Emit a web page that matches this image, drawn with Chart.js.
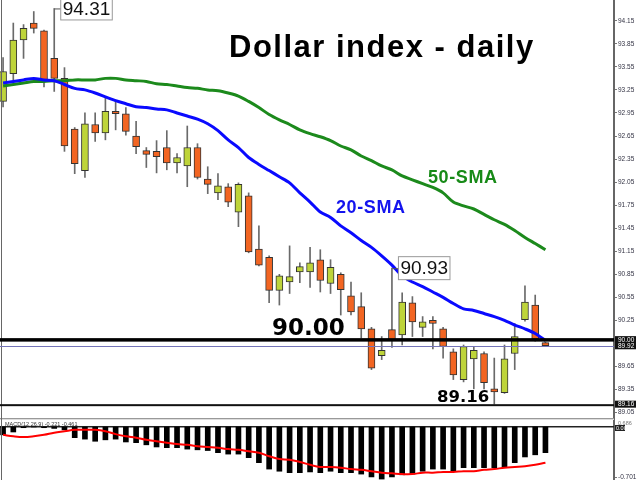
<!DOCTYPE html>
<html>
<head>
<meta charset="utf-8">
<script src="https://cdn.jsdelivr.net/npm/chart.js@4.4.1/dist/chart.umd.min.js"></script>
<style>
  body { margin: 0; background: #fff; }
  #marco { position: relative; width: 640px; height: 480px; overflow: hidden; background: #fff; }
  canvas { position: absolute; left: 0; }
  #precio { top: 0; }
  #macd { top: 418px; }
</style>
</head>
<body>
<div id="marco">
  <canvas id="precio" width="640" height="418"></canvas>
  <canvas id="macd" width="640" height="62"></canvas>
</div>
<script>
// velas diarias (indice 0 = primera vela visible)
const aperturas = [93.10, 93.46, 93.90, 94.12, 94.02, 93.66, 93.40, 92.74, 92.20, 92.80,
  92.69, 92.97, 92.94, 92.65, 92.46, 92.45, 92.50, 92.30, 92.26, 92.50,
  92.09, 91.91, 91.99, 91.66, 91.87, 91.18, 91.07, 90.64, 90.75, 90.88,
  90.88, 91.04, 90.73, 90.85, 90.57, 90.43, 90.14, 89.79, 90.13, 90.06,
  90.48, 90.16, 90.25, 90.14, 89.84, 89.48, 89.75, 89.82, 89.36, 89.31,
  89.82, 90.26, 90.45, 89.96];
const maximos = [93.67, 94.12, 94.10, 94.27, 94.03, 94.31, 93.54, 92.76, 92.95, 92.95,
  93.16, 93.11, 93.02, 92.84, 92.50, 92.59, 92.72, 92.42, 92.78, 92.55,
  92.25, 92.16, 92.03, 92.04, 91.91, 91.48, 91.09, 90.85, 91.22, 91.00,
  91.20, 91.17, 91.04, 90.87, 90.75, 90.61, 90.16, 90.04, 90.93, 90.61,
  90.56, 90.30, 90.30, 90.16, 89.88, 89.93, 89.90, 89.84, 89.76, 89.93,
  90.21, 90.70, 90.58, 89.97];
const minimos = [93.03, 93.38, 93.66, 93.99, 93.29, 93.23, 92.45, 92.16, 92.11, 92.58,
  92.60, 92.73, 92.66, 92.42, 92.24, 92.17, 92.21, 92.17, 91.99, 92.09,
  91.90, 91.82, 91.73, 91.47, 91.13, 90.96, 90.48, 90.45, 90.60, 90.74,
  90.68, 90.62, 90.60, 90.32, 90.32, 90.02, 89.61, 89.74, 89.90, 89.93,
  90.04, 90.04, 89.88, 89.76, 89.48, 89.45, 89.36, 89.36, 89.16, 89.30,
  89.61, 90.24, 89.98, 89.91];
const cierres = [93.49, 93.90, 94.05, 94.05, 93.38, 93.40, 92.52, 92.29, 92.81, 92.69,
  92.97, 92.94, 92.71, 92.51, 92.41, 92.38, 92.30, 92.37, 92.50, 92.11,
  92.02, 92.00, 91.79, 92.02, 91.14, 90.97, 90.64, 90.83, 90.82, 90.95,
  91.00, 90.77, 90.94, 90.65, 90.36, 90.14, 89.63, 89.86, 90.00, 90.49,
  90.23, 90.23, 90.21, 89.91, 89.54, 89.91, 89.86, 89.44, 89.32, 89.75,
  90.04, 90.49, 90.01, 89.92];

const sma20 = [93.34, 93.36, 93.38, 93.40, 93.38, 93.37, 93.32, 93.27, 93.25, 93.21,
  93.16, 93.11, 93.07, 93.03, 93.02, 93.00, 92.99, 92.95, 92.91, 92.87,
  92.81, 92.72, 92.60, 92.50, 92.37, 92.28, 92.20, 92.12, 92.04, 91.91,
  91.79, 91.66, 91.59, 91.48, 91.39, 91.29, 91.20, 91.09, 90.97, 90.83,
  90.75, 90.69, 90.62, 90.55, 90.47, 90.40, 90.38, 90.34, 90.30, 90.25,
  90.19, 90.14, 90.08, 89.99];
const sma50 = [93.30, 93.32, 93.34, 93.36, 93.36, 93.37, 93.37, 93.38, 93.38, 93.38,
  93.40, 93.40, 93.38, 93.37, 93.36, 93.33, 93.32, 93.30, 93.28, 93.27,
  93.25, 93.24, 93.21, 93.17, 93.10, 93.02, 92.93, 92.86, 92.80, 92.73,
  92.68, 92.64, 92.59, 92.52, 92.47, 92.39, 92.33, 92.26, 92.21, 92.13,
  92.08, 92.03, 91.98, 91.91, 91.79, 91.74, 91.70, 91.63, 91.56, 91.50,
  91.42, 91.33, 91.25, 91.17];

const macdHist = [-0.11, -0.07, -0.01, 0.00, -0.01, -0.02, -0.04, -0.15, -0.17, -0.20,
  -0.18, -0.17, -0.21, -0.22, -0.25, -0.28, -0.29, -0.29, -0.31, -0.32,
  -0.33, -0.36, -0.38, -0.38, -0.43, -0.50, -0.59, -0.62, -0.64, -0.64,
  -0.63, -0.64, -0.62, -0.64, -0.64, -0.66, -0.70, -0.73, -0.70, -0.67,
  -0.66, -0.62, -0.59, -0.59, -0.62, -0.57, -0.57, -0.57, -0.57, -0.56,
  -0.50, -0.42, -0.39, -0.36];
const macdSenal = [-0.11, -0.13, -0.14, -0.13, -0.11, -0.08, -0.06, -0.04, -0.04, -0.04,
  -0.06, -0.10, -0.13, -0.15, -0.18, -0.20, -0.22, -0.24, -0.25, -0.27,
  -0.28, -0.29, -0.31, -0.32, -0.34, -0.36, -0.41, -0.45, -0.46, -0.49,
  -0.53, -0.56, -0.56, -0.57, -0.59, -0.60, -0.62, -0.64, -0.65, -0.66,
  -0.66, -0.64, -0.64, -0.63, -0.63, -0.62, -0.62, -0.60, -0.59, -0.57,
  -0.56, -0.55, -0.53, -0.50];

const preciosEje = [94.15, 93.85, 93.55, 93.25, 92.95, 92.65, 92.35, 92.05, 91.75, 91.45,
  91.15, 90.85, 90.55, 90.25, 89.65, 89.35, 89.05];
const nivelSoporte = 90.00;
const precioActual = 89.92;
const minimoMarcado = 89.16;
const maximoMarcado = 94.31;
const picoMarcado = 90.93;

const VERDE = '#bed43a';
const NARANJA = '#f26522';

const idx = aperturas.map((_, i) => i);
const cuerpos = idx.map(i => ({ x: i, y: [aperturas[i], cierres[i]] }));
const mechas = idx.map(i => ({ x: i, y: [minimos[i], maximos[i]] }));
const coloresVela = idx.map(i => cierres[i] >= aperturas[i] ? VERDE : NARANJA);

function ejeDerecho(s) {
  s.width = 26;
  s.paddingTop = 0;
  s.paddingBottom = 0;
}

const ejeX = { type: 'linear', min: -0.3, max: 59.7, offset: false, display: false };

const dibujosPrecio = {
  id: 'dibujosPrecio',
  afterDatasetsDraw(chart) {
    const { ctx, scales: { x, y } } = chart;
    const derecha = chart.chartArea.right;
    ctx.save();

    // borde izquierdo
    ctx.fillStyle = '#666';
    ctx.fillRect(1, 0, 1, chart.height);

    // niveles
    const y90 = y.getPixelForValue(nivelSoporte);
    ctx.fillStyle = '#000';
    ctx.fillRect(0, y90 - 1.5, derecha, 3.5);
    const yAct = y.getPixelForValue(precioActual);
    ctx.fillStyle = '#7474b8';
    ctx.fillRect(0, Math.round(yAct), derecha, 1);
    const yMin = y.getPixelForValue(minimoMarcado);
    ctx.fillStyle = '#111';
    ctx.fillRect(0, yMin, derecha, 2);

    // textos grandes
    ctx.fillStyle = '#000';
    ctx.font = 'bold 23px "DejaVu Sans"';
    ctx.textBaseline = 'alphabetic';
    ctx.fillText('90.00', 272, y90 - 5);
    ctx.font = 'bold 16.5px "DejaVu Sans"';
    ctx.fillText('89.16', 437, yMin - 2);

    ctx.font = 'bold 31px "Liberation Sans"';
    ctx.letterSpacing = '1.5px';
    ctx.fillText('Dollar index - daily', 229, 57);
    ctx.font = 'bold 18px "Liberation Sans"';
    ctx.letterSpacing = '0.6px';
    ctx.fillStyle = '#1414ee';
    ctx.fillText('20-SMA', 336, 213);
    ctx.fillStyle = '#178a17';
    ctx.fillText('50-SMA', 428, 183);
    ctx.letterSpacing = '0px';

    // cajas de maximos
    function etiqueta(i, valor) {
      const px = x.getPixelForValue(i);
      const py = y.getPixelForValue(valor);
      ctx.font = '19px "Liberation Sans"';
      const texto = valor.toFixed(2);
      const ancho = ctx.measureText(texto).width + 4;
      ctx.strokeStyle = '#555';
      ctx.lineWidth = 1;
      ctx.beginPath();
      ctx.moveTo(px + 0.5, py + 0.5);
      ctx.lineTo(px + 7, py + 0.5);
      ctx.stroke();
      ctx.fillStyle = '#fff';
      ctx.fillRect(px + 6.5, py - 11.5, ancho, 23);
      ctx.strokeStyle = '#999';
      ctx.strokeRect(px + 6.5, py - 11.5, ancho, 23);
      ctx.fillStyle = '#111';
      ctx.textBaseline = 'middle';
      ctx.fillText(texto, px + 8.5, py + 1);
      ctx.textBaseline = 'alphabetic';
    }
    etiqueta(maximos.indexOf(maximoMarcado), maximoMarcado);
    etiqueta(maximos.indexOf(picoMarcado), picoMarcado);

    // cajas en el eje
    function cajaEje(valor) {
      const py = y.getPixelForValue(valor);
      ctx.fillStyle = '#111';
      ctx.fillRect(derecha + 1, py - 3.5, 21, 7);
      ctx.fillStyle = '#fff';
      ctx.font = '6.5px "Liberation Sans"';
      ctx.textBaseline = 'middle';
      ctx.fillText(valor.toFixed(2), derecha + 4, py + 0.5);
    }
    cajaEje(nivelSoporte);
    cajaEje(precioActual);
    cajaEje(minimoMarcado);
    ctx.restore();
  }
};

new Chart(document.getElementById('precio'), {
  data: {
    datasets: [
      { type: 'line', data: idx.map(i => ({ x: i, y: sma20[i] })), borderColor: '#0a0aff',
        borderWidth: 3, pointRadius: 0, tension: 0.3, order: 0 },
      { type: 'line', data: idx.map(i => ({ x: i, y: sma50[i] })), borderColor: '#1c8a1c',
        borderWidth: 3, pointRadius: 0, tension: 0.3, order: 0 },
      { type: 'bar', data: cuerpos, backgroundColor: coloresVela, borderColor: '#333',
        borderWidth: 1, borderSkipped: false, barThickness: 7, grouped: false, order: 1 },
      { type: 'bar', data: mechas, backgroundColor: '#6a6a6a', borderWidth: 0,
        barThickness: 1, grouped: false, order: 2 }
    ]
  },
  options: {
    responsive: false,
    animation: false,
    layout: { padding: 0 },
    plugins: { legend: { display: false }, tooltip: { enabled: false } },
    scales: {
      x: ejeX,
      y: {
        position: 'right', min: 88.98, max: 94.42,
        afterFit: ejeDerecho,
        afterBuildTicks: s => { s.ticks = preciosEje.map(v => ({ value: v })); },
        border: { display: true, color: '#666', width: 2 },
        grid: { drawOnChartArea: false, drawTicks: true, tickLength: 3, color: '#777' },
        ticks: { autoSkip: false, padding: 1, color: '#334', font: { family: 'Liberation Sans', size: 6.5 },
          callback: v => v.toFixed(2) }
      }
    }
  },
  plugins: [dibujosPrecio]
});

const dibujosMacd = {
  id: 'dibujosMacd',
  beforeDatasetsDraw(chart) {
    const { ctx, scales: { y } } = chart;
    const derecha = chart.chartArea.right;
    ctx.save();
    ctx.fillStyle = '#999';
    ctx.fillRect(0, 0, derecha, 1);
    ctx.fillStyle = '#ddd';
    ctx.fillRect(0, 1, derecha, 1);
    ctx.fillStyle = '#222';
    ctx.fillRect(0, y.getPixelForValue(0) - 1, derecha, 1.5);
    ctx.restore();
  },
  afterDatasetsDraw(chart) {
    const { ctx, scales: { y } } = chart;
    const derecha = chart.chartArea.right;
    ctx.save();
    ctx.fillStyle = '#666';
    ctx.fillRect(1, 0, 1, chart.height);
    ctx.font = '5.5px "Liberation Sans"';
    ctx.fillStyle = '#333';
    ctx.textBaseline = 'middle';
    ctx.fillText('MACD(12,26,9) -0.221 -0.461', 5, 6);
    ctx.fillStyle = '#777';
    ctx.fillText('0.686', derecha + 4, 5);
    const y0 = y.getPixelForValue(0);
    ctx.fillStyle = '#222';
    ctx.fillRect(derecha + 1, y0 - 2, 10, 6);
    ctx.fillStyle = '#fff';
    ctx.fillText('0.00', derecha + 2, y0 + 1);
    ctx.restore();
  }
};

new Chart(document.getElementById('macd'), {
  data: {
    datasets: [
      { type: 'line', data: idx.map(i => ({ x: i, y: macdSenal[i] })), borderColor: '#ff0000',
        borderWidth: 2, pointRadius: 0, tension: 0.4, order: 0 },
      { type: 'bar', data: idx.map(i => ({ x: i, y: macdHist[i] })), backgroundColor: '#000',
        barThickness: 5, grouped: false, order: 1 }
    ]
  },
  options: {
    responsive: false,
    animation: false,
    layout: { padding: 0 },
    plugins: { legend: { display: false }, tooltip: { enabled: false } },
    scales: {
      x: ejeX,
      y: {
        position: 'right', min: -0.743, max: 0.126,
        afterFit: ejeDerecho,
        afterBuildTicks: s => { s.ticks = [{ value: -0.701 }]; },
        border: { display: true, color: '#666', width: 2 },
        grid: { drawOnChartArea: false, drawTicks: true, tickLength: 3, color: '#777' },
        ticks: { autoSkip: false, padding: 1, color: '#334', font: { family: 'Liberation Sans', size: 6.5 },
          callback: v => v.toFixed(3) }
      }
    }
  },
  plugins: [dibujosMacd]
});
</script>
</body>
</html>
